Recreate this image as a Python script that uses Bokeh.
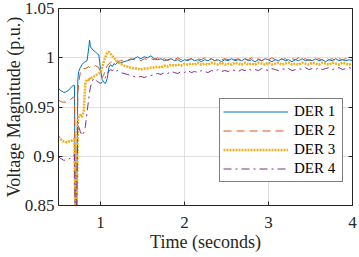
import numpy as np
from bokeh.plotting import figure
from bokeh.models import (Range1d, FixedTicker, LinearAxis, Legend, LegendItem,
                          CustomJSTickFormatter)
from bokeh.embed import file_html
from bokeh.resources import INLINE

# ---------------- data ----------------
t_transient = [0.50, 0.52, 0.54, 0.56, 0.58, 0.60, 0.62, 0.64, 0.66, 0.68,
               0.69, 0.70, 0.715, 0.73, 0.74, 0.76, 0.78, 0.80, 0.82, 0.84,
               0.86, 0.87, 0.88, 0.90, 0.92, 0.94, 0.96, 0.98, 1.00, 1.02,
               1.04, 1.06, 1.08, 1.10, 1.12, 1.14, 1.16, 1.18, 1.20]
t_steady = [1.24, 1.28, 1.32, 1.36, 1.40, 1.44, 1.48, 1.52, 1.56, 1.60,
            1.64, 1.68, 1.72, 1.76, 1.80, 1.84, 1.88, 1.92, 1.96, 2.00,
            2.04, 2.08, 2.12, 2.16, 2.20, 2.24, 2.28, 2.32, 2.36, 2.40,
            2.44, 2.48, 2.52, 2.56, 2.60, 2.64, 2.68, 2.72, 2.76, 2.80,
            2.84, 2.88, 2.92, 2.96, 3.00, 3.04, 3.08, 3.12, 3.16, 3.20,
            3.24, 3.28, 3.32, 3.36, 3.40, 3.44, 3.48, 3.52, 3.56, 3.60,
            3.64, 3.68, 3.72, 3.76, 3.80, 3.84, 3.88, 3.92, 3.96, 4.00]
time = t_transient + t_steady

der1 = [0.969, 0.967, 0.966, 0.965, 0.965, 0.966, 0.967, 0.969, 0.971, 0.972,
        0.972, 0.840, 0.840, 0.978, 0.986, 0.990, 0.993, 0.995, 0.996, 0.997,
        1.010, 1.018, 1.011, 1.009, 1.007, 1.006, 1.004, 1.003, 0.988, 0.978,
        0.975, 0.974, 0.979, 0.990, 0.993, 0.991, 0.994, 0.993, 0.995,
        0.995, 0.996, 0.997, 0.998, 0.999, 1.001, 0.999, 1.001, 1.000, 1.002,
        0.999, 0.998, 0.999, 0.997, 0.998, 0.999, 0.997, 0.998, 0.996, 0.998,
        0.997, 0.999, 0.997, 0.998, 0.996, 0.998, 0.997, 0.999, 0.997, 0.998,
        0.996, 0.998, 0.997, 0.999, 0.997, 0.998, 0.997, 0.999, 0.997, 0.998,
        0.996, 0.998, 0.997, 0.999, 0.998, 0.996, 0.998, 0.997, 0.999, 0.997,
        0.998, 0.996, 0.998, 0.997, 0.999, 0.997, 0.998, 0.997, 0.999, 0.997,
        0.998, 0.996, 0.998, 0.997, 0.999, 0.997, 0.998, 0.997, 0.998, 0.997]

der2 = [0.957, 0.956, 0.955, 0.955, 0.955, 0.955, 0.956, 0.957, 0.959, 0.960,
        0.960, 0.840, 0.840, 0.965, 0.975, 0.985, 0.988, 0.989, 0.989, 0.990,
        0.991, 0.990, 0.991, 0.992, 0.991, 0.992, 0.991, 0.990, 0.984, 0.980,
        0.983, 0.988, 0.992, 0.994, 0.995, 0.996, 0.995, 0.997, 0.996,
        0.997, 0.998, 0.997, 0.999, 0.998, 0.999, 0.997, 0.999, 0.998, 0.999,
        0.998, 1.000, 0.998, 0.999, 0.997, 0.999, 0.998, 1.000, 0.998, 0.999,
        0.998, 0.999, 0.997, 0.999, 0.998, 1.000, 0.998, 0.999, 0.997, 0.999,
        0.998, 0.999, 0.998, 1.000, 0.998, 0.999, 0.997, 0.999, 0.998, 1.000,
        0.998, 0.999, 0.997, 0.999, 0.998, 1.000, 0.998, 0.999, 0.998, 0.999,
        0.997, 0.999, 0.998, 1.000, 0.998, 0.999, 0.997, 0.999, 0.998, 0.999,
        0.998, 1.000, 0.998, 0.999, 0.997, 0.999, 0.998, 0.999, 0.998, 0.999]

der3 = [0.920, 0.918, 0.916, 0.915, 0.915, 0.914, 0.915, 0.915, 0.916, 0.917,
        0.918, 0.840, 0.840, 0.936, 0.940, 0.942, 0.940, 0.945, 0.975, 0.978,
        0.977, 0.979, 0.978, 0.980, 0.981, 0.982, 0.983, 0.984, 0.986, 0.990,
        0.996, 1.001, 1.005, 1.006, 1.004, 1.002, 1.000, 0.998, 0.996,
        0.994, 0.992, 0.991, 0.990, 0.989, 0.989, 0.988, 0.989, 0.989, 0.990,
        0.990, 0.991, 0.990, 0.992, 0.991, 0.993, 0.992, 0.993, 0.992, 0.994,
        0.993, 0.994, 0.993, 0.995, 0.993, 0.994, 0.993, 0.995, 0.994, 0.993,
        0.995, 0.993, 0.994, 0.993, 0.995, 0.994, 0.993, 0.995, 0.993, 0.994,
        0.993, 0.995, 0.994, 0.993, 0.995, 0.993, 0.994, 0.995, 0.993, 0.994,
        0.995, 0.993, 0.994, 0.993, 0.995, 0.994, 0.993, 0.995, 0.994, 0.993,
        0.995, 0.994, 0.993, 0.995, 0.994, 0.993, 0.995, 0.994, 0.993, 0.994]

der4 = [0.900, 0.898, 0.897, 0.896, 0.896, 0.896, 0.897, 0.898, 0.900, 0.901,
        0.902, 0.840, 0.840, 0.935, 0.930, 0.925, 0.921, 0.924, 0.930, 0.945,
        0.958, 0.965, 0.970, 0.976, 0.979, 0.978, 0.976, 0.975, 0.974, 0.975,
        0.977, 0.980, 0.984, 0.986, 0.988, 0.987, 0.988, 0.986, 0.987,
        0.985, 0.984, 0.983, 0.982, 0.981, 0.980, 0.981, 0.980, 0.981, 0.982,
        0.983, 0.984, 0.983, 0.985, 0.984, 0.986, 0.985, 0.984, 0.986, 0.985,
        0.987, 0.985, 0.986, 0.985, 0.987, 0.986, 0.985, 0.987, 0.986, 0.988,
        0.986, 0.987, 0.986, 0.988, 0.987, 0.986, 0.988, 0.987, 0.989, 0.987,
        0.988, 0.987, 0.989, 0.988, 0.987, 0.989, 0.988, 0.987, 0.989, 0.988,
        0.989, 0.987, 0.988, 0.989, 0.988, 0.990, 0.988, 0.989, 0.988, 0.990,
        0.988, 0.989, 0.990, 0.988, 0.989, 0.990, 0.988, 0.989, 0.990, 0.989]

labels = ["DER 1", "DER 2", "DER 3", "DER 4"]
x_ticks = [1, 2, 3, 4]
y_ticks = [0.85, 0.9, 0.95, 1.0, 1.05]
y_tick_labels = ["0.85", "0.9", "0.95", "1", "1.05"]

# ---------------- figure ----------------
FONT = "Liberation Serif"
TXT = "#262626"

p = figure(width=359, height=257, output_backend="svg", toolbar_location=None,
           x_range=Range1d(0.5, 4.0), y_range=Range1d(0.85, 1.05),
           min_border_left=0, min_border_right=7, min_border_top=8,
           min_border_bottom=52)
p.background_fill_color = "white"
p.border_fill_color = "white"
p.outline_line_color = TXT
p.outline_line_width = 1

for ax in (p.xaxis[0], p.yaxis[0]):
    ax.major_tick_in = 4
    ax.major_tick_out = 0
    ax.minor_tick_in = 0
    ax.minor_tick_out = 0
    ax.axis_line_color = TXT
    ax.major_tick_line_color = TXT
    ax.major_label_text_font = FONT
    ax.major_label_text_font_size = "17px"
    ax.major_label_text_color = TXT
    ax.axis_label_text_font = FONT
    ax.axis_label_text_font_size = "18px"
    ax.axis_label_text_font_style = "normal"
    ax.axis_label_text_color = TXT

p.xaxis[0].ticker = FixedTicker(ticks=x_ticks)
p.yaxis[0].ticker = FixedTicker(ticks=y_ticks)
p.yaxis[0].major_label_overrides = dict(zip(y_ticks, y_tick_labels))
p.xaxis[0].axis_label = "Time (seconds)"
p.yaxis[0].axis_label = "Voltage Magnitude (p.u.)"
p.xaxis[0].major_label_standoff = 11
p.xaxis[0].axis_label_standoff = 1
p.yaxis[0].major_label_standoff = 4
p.yaxis[0].axis_label_standoff = -2

# ticks on top and right (box on)
blank = CustomJSTickFormatter(code="return ''")
top = LinearAxis(ticker=FixedTicker(ticks=x_ticks), formatter=blank,
                 major_tick_in=4, major_tick_out=0, minor_tick_in=0, minor_tick_out=0,
                 major_label_standoff=0, major_label_text_font_size="0px",
                 axis_line_color=TXT, major_tick_line_color=TXT)
right = LinearAxis(ticker=FixedTicker(ticks=y_ticks), formatter=blank,
                   major_tick_in=4, major_tick_out=0, minor_tick_in=0, minor_tick_out=0,
                   major_label_standoff=0, major_label_text_font_size="0px",
                   axis_line_color=TXT, major_tick_line_color=TXT)
p.add_layout(top, "above")
p.add_layout(right, "right")

p.xgrid.ticker = FixedTicker(ticks=x_ticks)
p.ygrid.ticker = FixedTicker(ticks=y_ticks)
p.grid.grid_line_color = "#dfdfdf"
p.grid.grid_line_width = 1

r1 = p.line(time, der1, line_color="#0072BD", line_width=1)
r2 = p.line(time, der2, line_color="#D95319", line_width=1, line_dash="8 5")
r3 = p.line(time, der3, line_color="#EDB120", line_width=2.5, line_dash="2 1")
r4 = p.line(time, der4, line_color="#7E2F8E", line_width=1, line_dash="8 4 2 4")

legend = Legend(items=[LegendItem(label=l, renderers=[r]) for l, r in
                       zip(labels, [r1, r2, r3, r4])],
                location=(161, 23), orientation="vertical",
                glyph_width=65, glyph_height=19, label_height=19, label_width=45,
                label_standoff=6, spacing=0, padding=3, margin=0,
                label_text_font=FONT, label_text_font_size="15px",
                label_text_color="black",
                border_line_color="black", border_line_width=1,
                background_fill_color="white", background_fill_alpha=1)
p.add_layout(legend)

open("out.html", "w").write(file_html(p, INLINE))
